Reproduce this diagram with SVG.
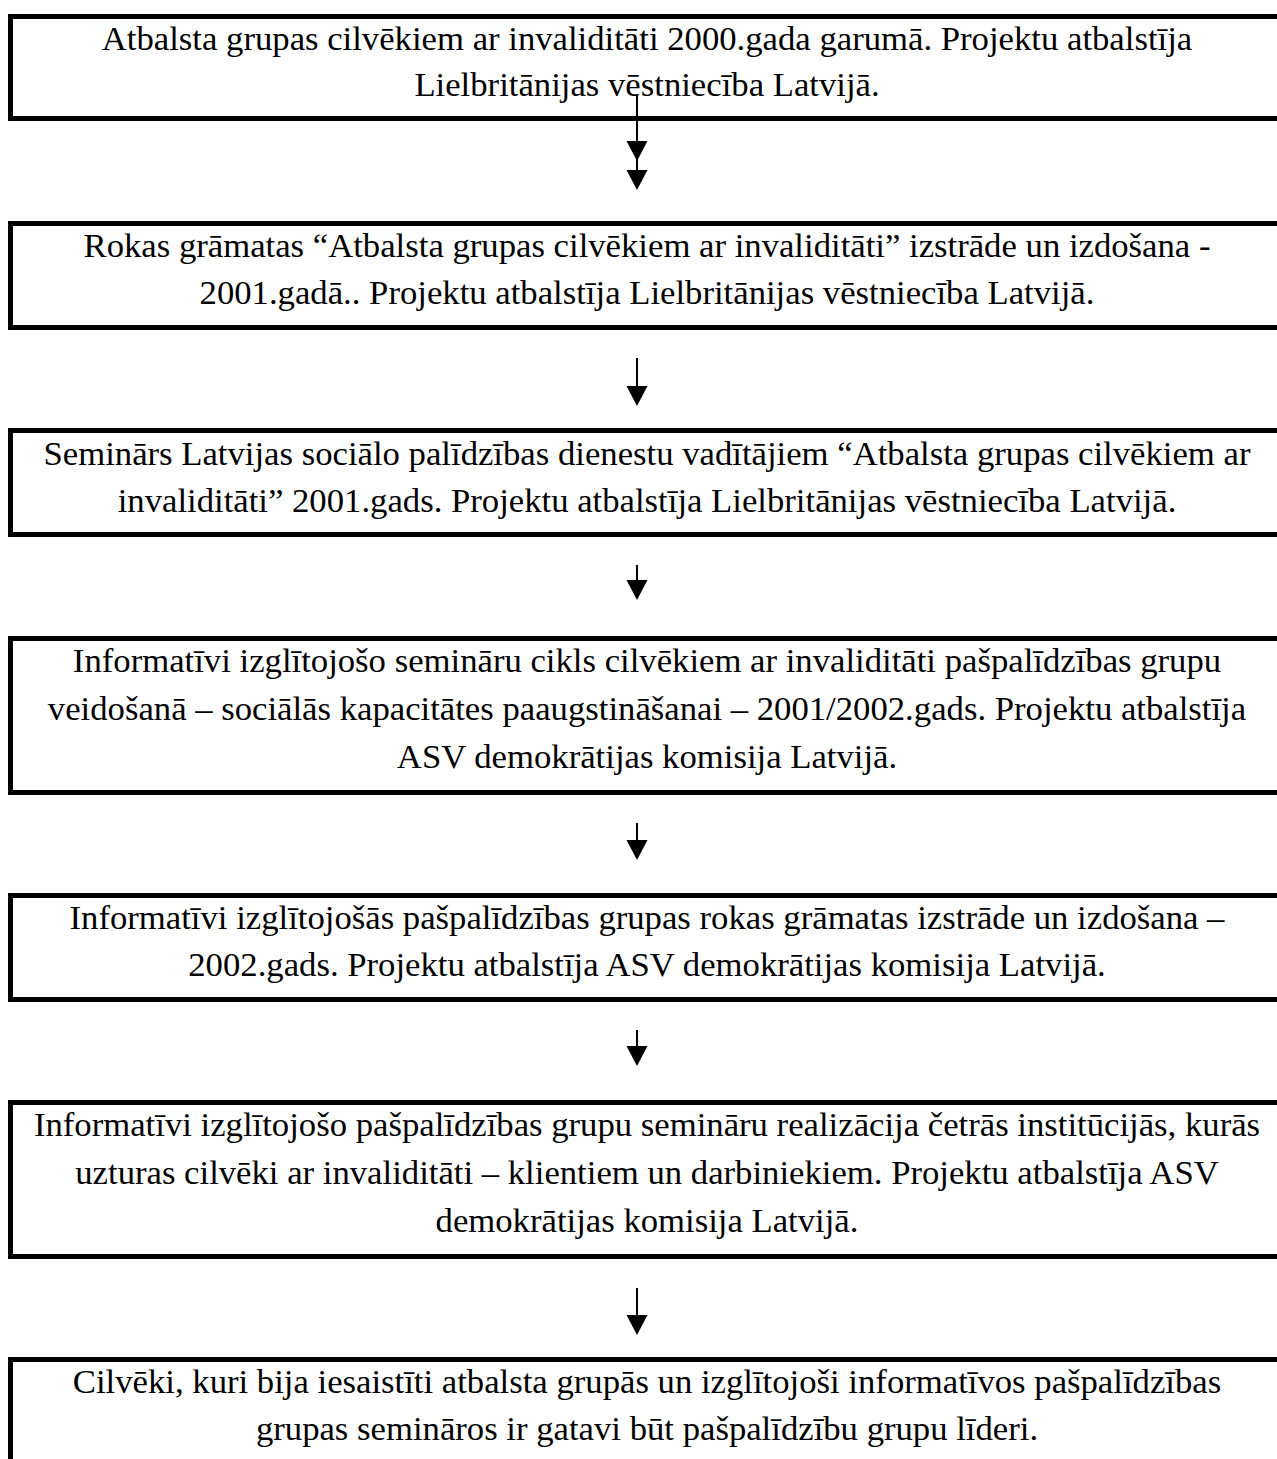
<svg xmlns="http://www.w3.org/2000/svg" xmlns:xlink="http://www.w3.org/1999/xlink" width="1277" height="1459" viewBox="0 0 1277 1459">
<style>
.box{fill:#fff;stroke:#000;stroke-width:5}
.t{font-family:"Liberation Serif","Times New Roman",serif;font-size:34.7px;fill:#000;text-anchor:middle}
.ln{stroke:#000;stroke-width:2;fill:none}
</style>
<defs>
<path id="ah" d="M-10.5,-20 L10.5,-20 L0,0 Z" fill="#000"/>
</defs>
<rect width="1277" height="1459" fill="#fff"/>
<g id="n1">
<rect class="box" x="10.5" y="16.5" width="1290" height="102"/>
<text class="t" x="647" y="50">Atbalsta grupas cilvēkiem ar invaliditāti 2000.gada garumā. Projektu atbalstīja</text>
<text class="t" x="647" y="96">Lielbritānijas vēstniecība Latvijā.</text>
</g>
<g id="n2">
<rect class="box" x="10.5" y="223.5" width="1290" height="104"/>
<text class="t" x="647" y="257">Rokas grāmatas “Atbalsta grupas cilvēkiem ar invaliditāti” izstrāde un izdošana -</text>
<text class="t" x="647" y="304">2001.gadā.. Projektu atbalstīja Lielbritānijas vēstniecība Latvijā.</text>
</g>
<g id="n3">
<rect class="box" x="10.5" y="430.5" width="1290" height="104"/>
<text class="t" x="647" y="465">Seminārs Latvijas sociālo palīdzības dienestu vadītājiem “Atbalsta grupas cilvēkiem ar</text>
<text class="t" x="647" y="512">invaliditāti” 2001.gads. Projektu atbalstīja Lielbritānijas vēstniecība Latvijā.</text>
</g>
<g id="n4">
<rect class="box" x="10.5" y="638.5" width="1290" height="154"/>
<text class="t" x="647" y="672">Informatīvi izglītojošo semināru cikls cilvēkiem ar invaliditāti pašpalīdzības grupu</text>
<text class="t" x="647" y="720">veidošanā – sociālās kapacitātes paaugstināšanai – 2001/2002.gads. Projektu atbalstīja</text>
<text class="t" x="647" y="768">ASV demokrātijas komisija Latvijā.</text>
</g>
<g id="n5">
<rect class="box" x="10.5" y="895.5" width="1290" height="104"/>
<text class="t" x="647" y="929">Informatīvi izglītojošās pašpalīdzības grupas rokas grāmatas izstrāde un izdošana –</text>
<text class="t" x="647" y="976">2002.gads. Projektu atbalstīja ASV demokrātijas komisija Latvijā.</text>
</g>
<g id="n6">
<rect class="box" x="10.5" y="1102.5" width="1290" height="154"/>
<text class="t" x="647" y="1136">Informatīvi izglītojošo pašpalīdzības grupu semināru realizācija četrās institūcijās, kurās</text>
<text class="t" x="647" y="1184">uzturas cilvēki ar invaliditāti – klientiem un darbiniekiem. Projektu atbalstīja ASV</text>
<text class="t" x="647" y="1232">demokrātijas komisija Latvijā.</text>
</g>
<g id="n7">
<rect class="box" x="10.5" y="1359.5" width="1290" height="120"/>
<text class="t" x="647" y="1393">Cilvēki, kuri bija iesaistīti atbalsta grupās un izglītojoši informatīvos pašpalīdzības</text>
<text class="t" x="647" y="1440">grupas semināros ir gatavi būt pašpalīdzību grupu līderi.</text>
</g>
<g id="connectors">
<line class="ln" x1="637" y1="95" x2="637" y2="180"/>
<use xlink:href="#ah" x="637" y="161"/>
<use xlink:href="#ah" x="637" y="190"/>
<line class="ln" x1="637" y1="358" x2="637" y2="395"/>
<use xlink:href="#ah" x="637" y="406"/>
<line class="ln" x1="637" y1="565" x2="637" y2="590"/>
<use xlink:href="#ah" x="637" y="600"/>
<line class="ln" x1="637" y1="823" x2="637" y2="850"/>
<use xlink:href="#ah" x="637" y="860"/>
<line class="ln" x1="637" y1="1030" x2="637" y2="1056"/>
<use xlink:href="#ah" x="637" y="1066"/>
<line class="ln" x1="637" y1="1288" x2="637" y2="1324"/>
<use xlink:href="#ah" x="637" y="1335"/>
</g>
</svg>
